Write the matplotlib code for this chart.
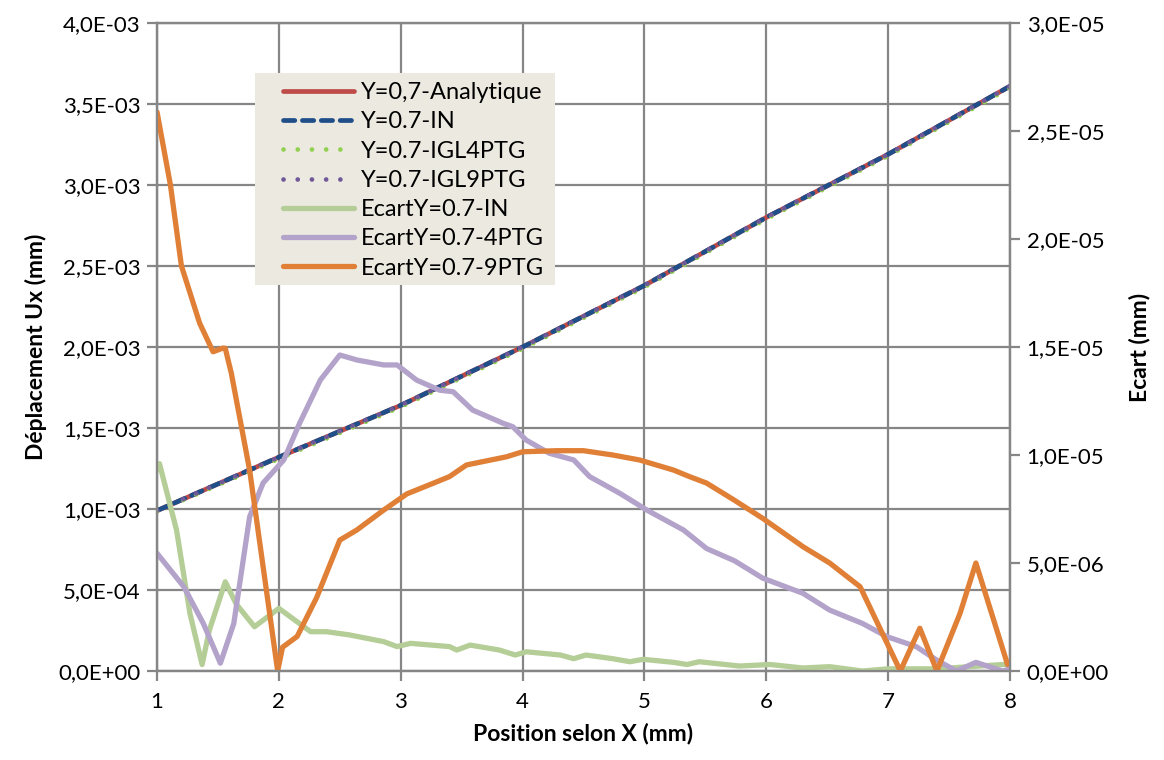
import matplotlib.pyplot as plt
from matplotlib.patches import Rectangle
from matplotlib.ticker import FuncFormatter, MultipleLocator

plt.rcParams['font.family'] = ['Lato', 'DejaVu Sans']

# Displacement Ux along X (mm), the four curves overlap
x_disp = [1, 2, 3, 4, 5, 6, 7, 8]
u_analytic = [0.99e-3, 1.32e-3, 1.64e-3, 2.00e-3, 2.38e-3, 2.80e-3, 3.19e-3, 3.61e-3]
u_in = [0.99e-3, 1.32e-3, 1.64e-3, 2.00e-3, 2.38e-3, 2.80e-3, 3.19e-3, 3.61e-3]
u_4ptg = [0.985e-3, 1.31e-3, 1.63e-3, 1.99e-3, 2.37e-3, 2.79e-3, 3.18e-3, 3.60e-3]
u_9ptg = [0.99e-3, 1.32e-3, 1.64e-3, 2.00e-3, 2.38e-3, 2.80e-3, 3.19e-3, 3.61e-3]

# Ecart curves (right axis)
x_e_in = [1.0, 1.02, 1.16, 1.27, 1.37, 1.43, 1.56, 1.65, 1.80, 2.0, 2.26, 2.39, 2.58, 2.86,
          2.97, 3.08, 3.40, 3.46, 3.57, 3.81, 3.94, 4.03, 4.31, 4.42, 4.52, 4.74, 4.88,
          4.99, 5.24, 5.35, 5.45, 5.78, 6.03, 6.30, 6.52, 6.79, 7.0, 7.4, 7.94, 8.0]
e_in = [0.93e-5, 0.96e-5, 0.653e-5, 0.267e-5, 0.03e-5, 0.19e-5, 0.413e-5, 0.31e-5, 0.205e-5,
        0.29e-5, 0.182e-5, 0.182e-5, 0.167e-5, 0.136e-5, 0.113e-5, 0.128e-5, 0.113e-5,
        0.097e-5, 0.12e-5, 0.097e-5, 0.074e-5, 0.089e-5, 0.074e-5, 0.057e-5, 0.074e-5,
        0.057e-5, 0.043e-5, 0.054e-5, 0.04e-5, 0.03e-5, 0.043e-5, 0.023e-5, 0.03e-5,
        0.014e-5, 0.02e-5, 0.0, 0.01e-5, 0.01e-5, 0.03e-5, 0.03e-5]

x_e_4 = [1.0, 1.22, 1.38, 1.52, 1.63, 1.76, 1.87, 2.04, 2.17, 2.34, 2.50, 2.64, 2.86, 2.97,
         3.13, 3.32, 3.43, 3.59, 3.84, 3.92, 4.03, 4.22, 4.42, 4.55, 4.80, 5.02, 5.32,
         5.51, 5.74, 5.97, 6.30, 6.52, 6.79, 6.99, 7.23, 7.40, 7.56, 7.72, 7.94, 8.0]
e_4 = [0.545e-5, 0.39e-5, 0.22e-5, 0.036e-5, 0.22e-5, 0.714e-5, 0.87e-5, 0.977e-5, 1.147e-5,
       1.347e-5, 1.463e-5, 1.44e-5, 1.417e-5, 1.417e-5, 1.347e-5, 1.30e-5, 1.293e-5,
       1.208e-5, 1.147e-5, 1.131e-5, 1.069e-5, 1.008e-5, 0.977e-5, 0.90e-5, 0.822e-5,
       0.745e-5, 0.653e-5, 0.567e-5, 0.51e-5, 0.43e-5, 0.36e-5, 0.282e-5, 0.22e-5,
       0.159e-5, 0.113e-5, 0.05e-5, 0.0, 0.04e-5, 0.0, 0.01e-5]

x_e_9 = [1.0, 1.11, 1.2, 1.35, 1.46, 1.54, 1.56, 1.61, 1.76, 1.99, 2.03, 2.15, 2.31, 2.50,
         2.64, 2.86, 3.05, 3.27, 3.40, 3.54, 3.87, 4.0, 4.28, 4.5, 4.74, 4.96, 5.24, 5.37,
         5.51, 5.74, 5.97, 6.30, 6.52, 6.77, 7.10, 7.26, 7.40, 7.59, 7.72, 7.98]
e_9 = [2.588e-5, 2.25e-5, 1.876e-5, 1.61e-5, 1.478e-5, 1.495e-5, 1.494e-5, 1.378e-5, 0.93e-5,
       0.0, 0.11e-5, 0.16e-5, 0.34e-5, 0.606e-5, 0.653e-5, 0.745e-5, 0.82e-5, 0.87e-5,
       0.90e-5, 0.954e-5, 0.992e-5, 1.015e-5, 1.02e-5, 1.02e-5, 1.0e-5, 0.977e-5, 0.93e-5,
       0.9e-5, 0.87e-5, 0.79e-5, 0.707e-5, 0.576e-5, 0.5e-5, 0.39e-5, 0.0, 0.198e-5, 0.0,
       0.267e-5, 0.5e-5, 0.03e-5]

grid_col = '#868686'
W, H = 1164, 760

fig = plt.figure(figsize=(11.64, 7.6), dpi=100)
ax = fig.add_axes([0.1349, 0.1171, 0.7328, 0.8526])
ax2 = ax.twinx()

lw = 3.4
l1, = ax.plot(x_disp, u_analytic, color='#BE4B48', lw=lw, solid_capstyle='round',
              label='Y=0,7-Analytique')
l2, = ax.plot(x_disp, u_in, color='#1F4E89', lw=lw, dashes=(2.4, 1.6), dash_capstyle='round',
              label='Y=0.7-IN')
l3, = ax.plot(x_disp, u_4ptg, color='#92D050', lw=lw, dashes=(0.01, 3.0), dash_capstyle='round',
              label='Y=0.7-IGL4PTG')
l4, = ax.plot(x_disp, u_9ptg, color='#71589A', lw=lw, dashes=(0.01, 3.0), dash_capstyle='round',
              label='Y=0.7-IGL9PTG')

l5, = ax2.plot(x_e_in, e_in, color='#B5CD97', lw=3.8, solid_joinstyle='round',
               solid_capstyle='round', label='EcartY=0.7-IN')
l6, = ax2.plot(x_e_4, e_4, color='#B3A3CA', lw=3.8, solid_joinstyle='round',
               solid_capstyle='round', label='EcartY=0.7-4PTG')
l7, = ax2.plot(x_e_9, e_9, color='#E07F36', lw=3.8, solid_joinstyle='round',
               solid_capstyle='round', label='EcartY=0.7-9PTG')

ax.set_xlim(1, 8)
ax.set_ylim(0, 4.0e-3)
ax2.set_ylim(0, 3.0e-5)
ax.xaxis.set_major_locator(MultipleLocator(1))
ax.yaxis.set_major_locator(MultipleLocator(0.5e-3))
ax2.yaxis.set_major_locator(MultipleLocator(0.5e-5))


def sci_comma(v, pos):
    s = f'{v:.1E}'.replace('.', ',')
    mant, exp = s.split('E')
    return f'{mant}E{exp[0]}{int(exp[1:]):02d}'


ax.yaxis.set_major_formatter(FuncFormatter(sci_comma))
ax2.yaxis.set_major_formatter(FuncFormatter(sci_comma))

ax.grid(True, color=grid_col, lw=1.6)
ax.set_axisbelow(True)
for a in (ax, ax2):
    for sp in a.spines.values():
        sp.set_color(grid_col)
        sp.set_linewidth(1.6)
    a.tick_params(colors=grid_col, width=1.6, length=7, labelsize=16, labelcolor='black')
ax.tick_params(axis='x', pad=8)
ax.tick_params(axis='y', pad=5)
ax2.tick_params(axis='y', pad=5)

ax.set_xlabel('Position selon X (mm)', fontsize=16.5, fontweight='bold', labelpad=8)
ax.set_ylabel('Déplacement Ux (mm)', fontsize=16.5, fontweight='bold', labelpad=8)
ax2.set_ylabel('Ecart (mm)', fontsize=16.5, fontweight='bold', labelpad=14)

# legend background box
ax2.add_patch(Rectangle((255 / W, 1 - 285 / H), 300 / W, 212 / H, transform=fig.transFigure,
                        facecolor='#ECEAE0', edgecolor='none', zorder=4.5, clip_on=False))
leg = ax2.legend(handles=[l1, l2, l3, l4, l5, l6, l7], loc='upper left',
                 bbox_to_anchor=(283 / W, 1 - 82 / H), bbox_transform=fig.transFigure,
                 fontsize=17, frameon=False, handlelength=3.0,
                 labelspacing=0.35, borderpad=0.0, handletextpad=0.3, borderaxespad=0)

fig.savefig('out.png', dpi=100)
